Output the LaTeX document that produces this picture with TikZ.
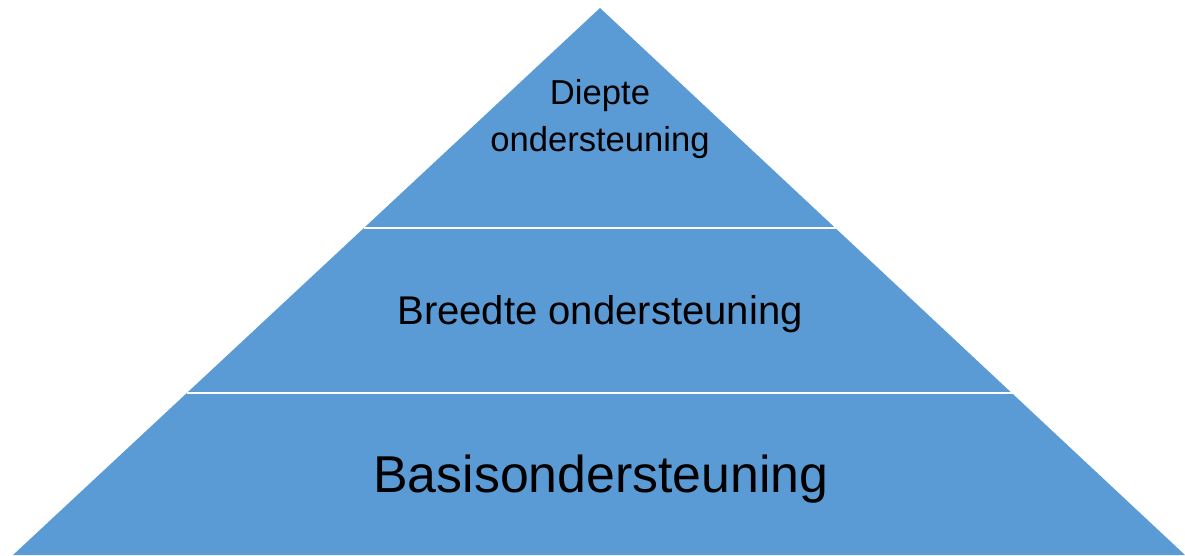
\documentclass[tikz,border=0pt]{standalone}
\usepackage{fontspec}
\setmainfont{Liberation Sans}
\usepackage{tikz}
\definecolor{laagblauw}{HTML}{5B9BD5}
\tikzstyle{laag} = [fill=laagblauw, draw=none]
\tikzstyle{scheiding} = [draw=white, line width=1pt]
\tikzstyle{tekst} = [align=center, inner sep=0pt]

\begin{document}
\begin{tikzpicture}[x=0.02cm,y=-0.02cm]
\useasboundingbox (0,0) rectangle (1185,555);
\coordinate (top) at (600,8);
\coordinate (linksonder) at (13,555);
\coordinate (rechtsonder) at (1185,555);
\def\piramide{(top) -- (linksonder) -- (rechtsonder) -- cycle}
\fill[laag] \piramide;
% scheidingslijnen tussen de lagen
\coordinate (l1) at (364,228);
\coordinate (r1) at (837,228);
\coordinate (l2) at (187,393);
\coordinate (r2) at (1015,393);
\draw[scheiding] (l1) -- (r1);
\draw[scheiding] (l2) -- (r2);
\node[tekst, font=\fontsize{19.7}{27.2}\selectfont] (diepte) at (600,119) {Diepte\\ondersteuning};
\node[tekst, font=\fontsize{22.8}{27}\selectfont] (breedte) at (600,314) {Breedte ondersteuning};
\node[tekst, font=\fontsize{29.5}{34}\selectfont] (basis) at (601,479) {Basisondersteuning};
\end{tikzpicture}
\end{document}
